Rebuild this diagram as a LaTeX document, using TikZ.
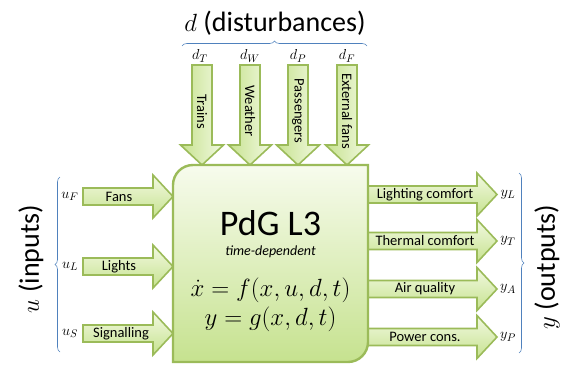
\documentclass[tikz,border=0pt]{standalone}
\usepackage{fontspec}
\setmainfont{Carlito}
\usetikzlibrary{decorations.pathreplacing}
\definecolor{gborder}{HTML}{9BBB59}
\definecolor{glight}{HTML}{F2F9E1}
\definecolor{gdark}{HTML}{C6E28F}
\definecolor{bracecol}{HTML}{4F81BD}
\tikzset{
  harrow/.style={draw=gborder, line width=1.6pt, line join=miter, top color=glight, bottom color=gdark},
  varrow/.style={draw=gborder, line width=1.6pt, line join=miter, left color=gdark, right color=glight},
  mainbox/.style={draw=gborder, line width=2.4pt, top color=glight!60!white, bottom color=gdark},
  lbl/.style={font=\fontsize{14.5}{16}\selectfont, inner sep=0pt},
  mlbl/.style={font=\fontsize{15}{17}\selectfont, inner sep=0pt},
  bigt/.style={font=\fontsize{28}{32}\selectfont, inner sep=0pt},
  bracestyle/.style={draw=bracecol, line width=0.6pt, decorate, decoration={brace, amplitude=5pt}},
}
\newcommand{\rightblock}[3]{%
  \path[harrow] (#1,#3-8.5) -- (#2-20,#3-8.5) -- (#2-20,#3-21.5) -- (#2,#3) -- (#2-20,#3+21.5) -- (#2-20,#3+8.5) -- (#1,#3+8.5) -- cycle;}
\newcommand{\downblock}[3]{%
  \path[varrow] (#1-10,#2) -- (#1+10,#2) -- (#1+10,#3-20) -- (#1+21.5,#3-20) -- (#1,#3) -- (#1-21.5,#3-20) -- (#1-10,#3-20) -- cycle;}
\begin{document}
\begin{tikzpicture}[x=1pt,y=-1pt]
\useasboundingbox (0,0) rectangle (569,364);
% input arrows
\rightblock{83}{173}{196.5}
\rightblock{83}{173}{266.5}
\rightblock{83}{173}{333.5}
% output arrows
\rightblock{366}{497}{194.5}
\rightblock{366}{497}{241}
\rightblock{366}{497}{289}
\rightblock{366}{497}{337}
% disturbance arrows
\downblock{202}{65}{165}
\downblock{250}{65}{165}
\downblock{298}{65}{165}
\downblock{347}{65}{165}
% main box
\path[mainbox] (173,362) -- (173,185) arc (180:90:20pt) -- (368,165) -- (368,342) arc (0:-90:20pt) -- cycle;
\node[inner sep=0pt, minimum width=195pt, minimum height=197pt] (sys) at (270.5,263.5) {};
\node[font=\fontsize{36}{40}\selectfont, inner sep=0pt, anchor=base] (title) at (270.5,235) {PdG L3};
\node[font=\fontsize{14}{16}\selectfont\itshape, inner sep=0pt, anchor=base] (td) at (270.5,255) {time-dependent};
\node[font=\fontsize{23}{26}\selectfont, inner sep=0pt, anchor=base] (eq1) at (270.5,296) {$\dot{x} = f(x,u,d,t)$};
\node[font=\fontsize{23}{26}\selectfont, inner sep=0pt, anchor=base] (eq2) at (270.5,325) {$y = g(x,d,t)$};
% input labels
\node[lbl] (fans) at (119,196.5) {Fans};
\node[lbl] (lights) at (119,266.5) {Lights};
\node[lbl] (signal) at (121,333.5) {Signalling};
\node[mlbl] (uF) at (70,196.5) {$u_F$};
\node[mlbl] (uL) at (70,266.5) {$u_L$};
\node[mlbl] (uS) at (70,333.5) {$u_S$};
% output labels
\node[lbl] (lc) at (425,194.5) {Lighting comfort};
\node[lbl] (tc) at (425,241) {Thermal comfort};
\node[lbl] (aq) at (425,289) {Air quality};
\node[lbl] (pc) at (425,337) {Power cons.};
\node[mlbl] (yL) at (508,194.5) {$y_L$};
\node[mlbl] (yT) at (508,241) {$y_T$};
\node[mlbl] (yA) at (508,289) {$y_A$};
\node[mlbl] (yP) at (508,337) {$y_P$};
% disturbance labels
\node[lbl, rotate=-90] (trains) at (202,112) {Trains};
\node[lbl, rotate=-90] (weather) at (250,111) {Weather};
\node[lbl, rotate=-90] (pass) at (298,111) {Passengers};
\node[lbl, rotate=-90] (ext) at (347,111) {External fans};
\node[mlbl] (dT) at (200,56) {$d_T$};
\node[mlbl] (dW) at (250,56) {$d_W$};
\node[mlbl] (dP) at (298,56) {$d_P$};
\node[mlbl] (dF) at (347,56) {$d_F$};
% braces
\draw[bracestyle] (60,352) -- (60,177);
\draw[bracestyle] (519,173) -- (519,353);
\draw[bracestyle] (182,46) -- (367,46);
% group labels
\node[bigt] (dist) at (275,23) {$d$ (disturbances)};
\node[bigt, rotate=90] (inp) at (31,259) {$u$ (inputs)};
\node[bigt, rotate=90] (outp) at (547,267) {$y$ (outputs)};
\end{tikzpicture}
\end{document}
